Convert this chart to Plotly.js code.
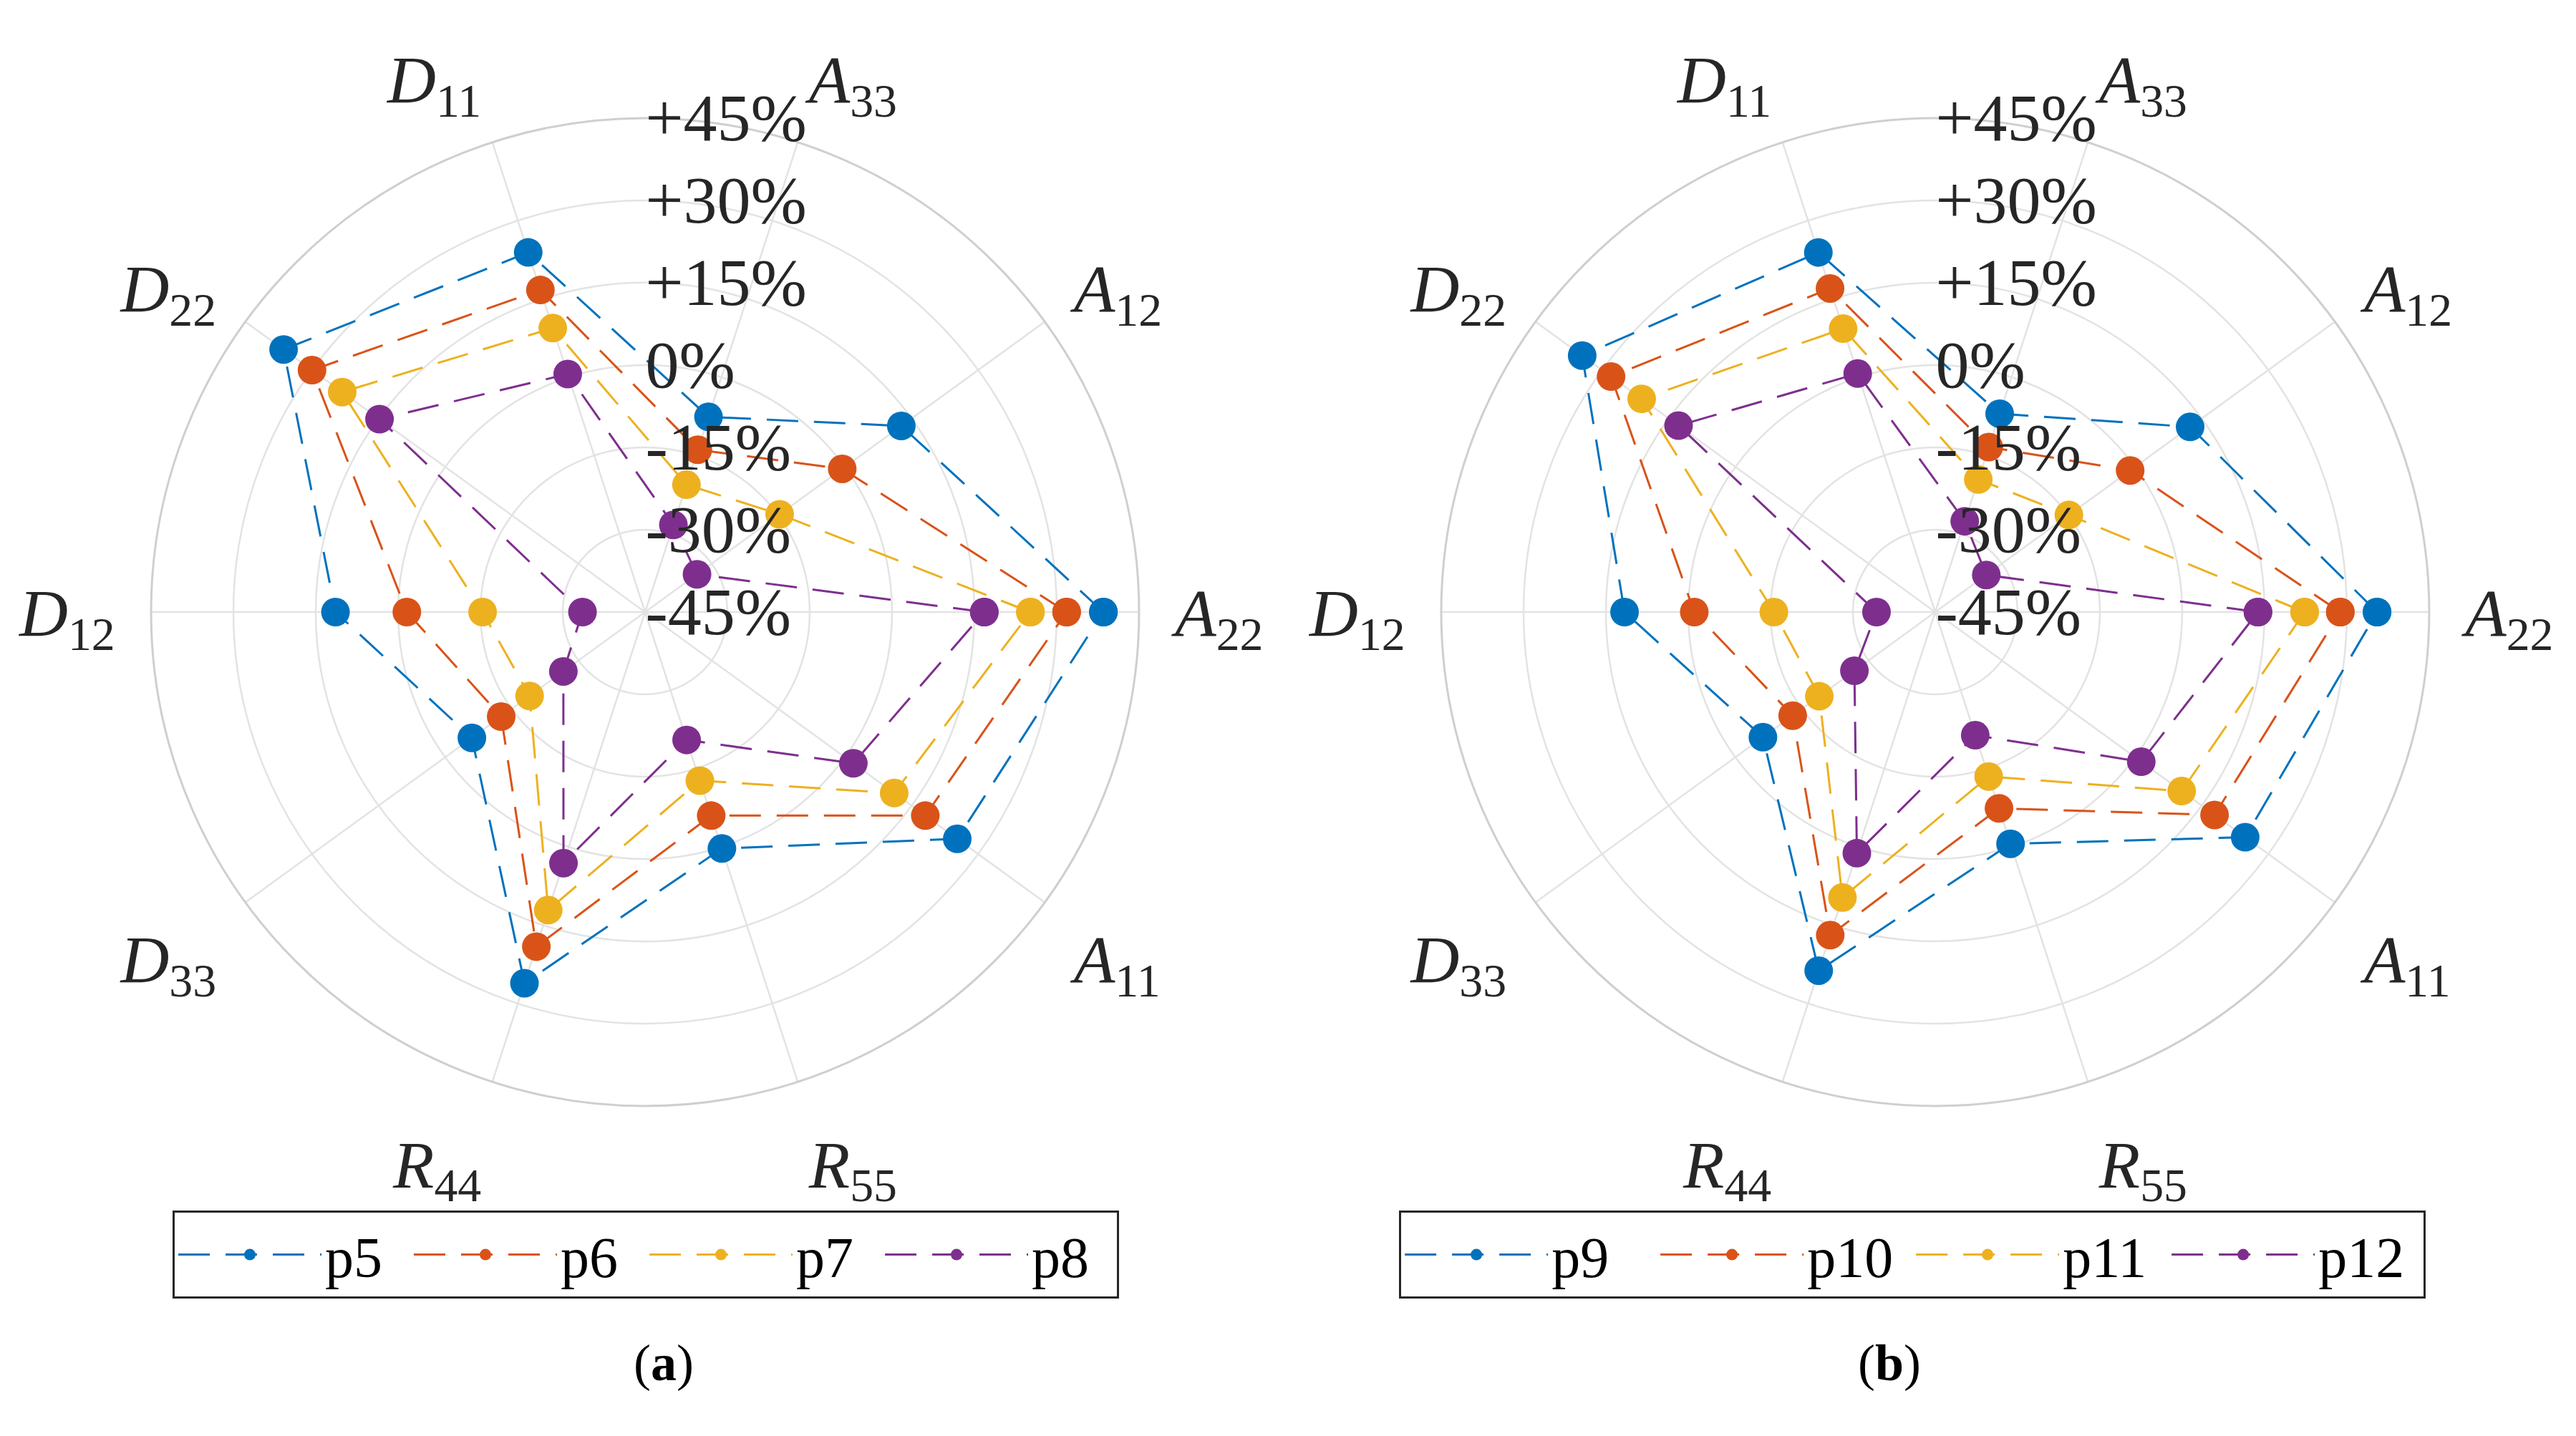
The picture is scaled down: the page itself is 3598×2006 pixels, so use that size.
<!DOCTYPE html>
<html>
<head>
<meta charset="utf-8">
<script src="https://cdn.plot.ly/plotly-3.0.1.min.js"></script>
<style>
html,body{margin:0;padding:0;background:#ffffff;}
#chart{width:3598px;height:2006px;}
</style>
</head>
<body>
<div id="chart"></div>
<script>
// ---- data ----
const categories = ['A22','A12','A33','D11','D22','D12','D33','R44','R55','A11'];
const categoryLabels = ['<i>A</i><sub>22</sub>','<i>A</i><sub>12</sub>','<i>A</i><sub>33</sub>','<i>D</i><sub>11</sub>','<i>D</i><sub>22</sub>','<i>D</i><sub>12</sub>','<i>D</i><sub>33</sub>','<i>R</i><sub>44</sub>','<i>R</i><sub>55</sub>','<i>A</i><sub>11</sub>'];
const radialTickValues = [-45,-30,-15,0,15,30,45];
const radialTickLabels = ['-45%','-30%','-15%','0%','+15%','+30%','+45%'];

// panel (a)
const namesA = ['p5','p6','p7','p8'];
const p5 = [38.5, 12.7, -7.6, 23.9, 36.4, 11.4, -6.0, 26.1, 0.3, 25.3];
const p6 = [31.8, -0.6, -13.9, 16.7, 30.0, -1.6, -12.6, 19.1, -6.0, 18.1];
const p7 = [25.2, -14.7, -20.6, 9.4, 23.2, -15.4, -19.0, 12.1, -12.7, 11.1];
const p8 = [16.8, -33.3, -28.3, 0.6, 14.8, -33.6, -26.6, 3.1, -20.5, 1.9];

// panel (b)
const namesB = ['p9','p10','p11','p12'];
const p9  = [35.5, 12.4, -7.0, 23.9, 34.5, 11.6, -6.2, 23.7, -0.6, 24.8];
const p10 = [28.8, -1.1, -13.4, 17.0, 28.0, -1.1, -12.9, 16.9, -7.4, 17.9];
const p11 = [22.3, -14.9, -19.6, 9.3, 21.1, -15.6, -18.9, 9.7, -13.5, 10.5];
const p12 = [13.8, -33.5, -27.6, 0.7, 12.8, -34.3, -26.8, 1.2, -21.4, 1.4];

const panelLabels = ['(<b>a</b>)','(<b>b</b>)'];

// ---- styling ----
const colors = ['#0072BD','#D95319','#EDB120','#7E2F8E'];
const serif = 'Liberation Serif, Times New Roman, serif';
const textColor = '#262626';

function closed(arr){ return arr.concat([arr[0]]); }
const thetaClosed = closed(categories);

function makeTraces(seriesList, names, subplot, legendId){
  return seriesList.map((vals, i) => ({
    type: 'scatterpolar',
    r: closed(vals),
    theta: thetaClosed,
    name: names[i],
    subplot: subplot,
    legend: legendId,
    mode: 'lines+markers',
    line: {color: colors[i], width: 3, dash: '44px,22px'},
    marker: {color: colors[i], size: 40, line: {width: 0}},
    cliponaxis: false
  }));
}

const traces = makeTraces([p5,p6,p7,p8], namesA, 'polar', 'legend')
  .concat(makeTraces([p9,p10,p11,p12], namesB, 'polar2', 'legend2'));

function polarLayout(xdom){
  return {
    domain: {x: xdom, y: [0.22981, 0.91775]},
    bgcolor: '#ffffff',
    radialaxis: {
      range: [-45, 45],
      tickmode: 'array',
      tickvals: radialTickValues,
      ticktext: radialTickLabels,
      angle: 90,
      tickangle: 90,
      showline: false,
      ticks: '',
      gridcolor: '#e3e3e3',
      gridwidth: 2.5,
      tickfont: {family: serif, size: 94, color: textColor}
    },
    angularaxis: {
      type: 'category',
      categoryarray: categories,
      tickmode: 'array',
      tickvals: categories,
      ticktext: categoryLabels,
      rotation: 0,
      direction: 'counterclockwise',
      showline: true,
      linecolor: '#cfcfcf',
      linewidth: 3,
      gridcolor: '#e3e3e3',
      gridwidth: 2.5,
      ticks: 'outside',
      ticklen: 30,
      tickcolor: 'rgba(0,0,0,0)',
      tickfont: {family: serif, size: 94, color: textColor}
    }
  };
}

function legendLayout(xc, entryW){
  return {
    orientation: 'h',
    x: xc, xanchor: 'center',
    y: 0.157, yanchor: 'top',
    bgcolor: '#ffffff',
    bordercolor: '#262626',
    borderwidth: 3,
    itemwidth: 200,
    entrywidth: entryW,
    entrywidthmode: 'pixels',
    font: {family: serif, size: 80, color: '#000000'}
  };
}

const layout = {
  width: 3598, height: 2006,
  paper_bgcolor: '#ffffff',
  margin: {l: 0, r: 0, t: 0, b: 0},
  showlegend: true,
  polar: polarLayout([0.05864, 0.44219]),
  polar2: polarLayout([0.55948, 0.94302]),
  legend: legendLayout(0.2507, 114),
  legend2: legendLayout(0.7424, 142),
  annotations: [
    {text: panelLabels[0], x: 0.2454, y: 0.0299, xref: 'paper', yref: 'paper', showarrow: false,
     font: {family: serif, size: 72, color: '#000000'}},
    {text: panelLabels[1], x: 0.7462, y: 0.0299, xref: 'paper', yref: 'paper', showarrow: false,
     font: {family: serif, size: 72, color: '#000000'}}
  ]
};

Plotly.newPlot('chart', traces, layout, {staticPlot: true, displayModeBar: false});
</script>
</body>
</html>
